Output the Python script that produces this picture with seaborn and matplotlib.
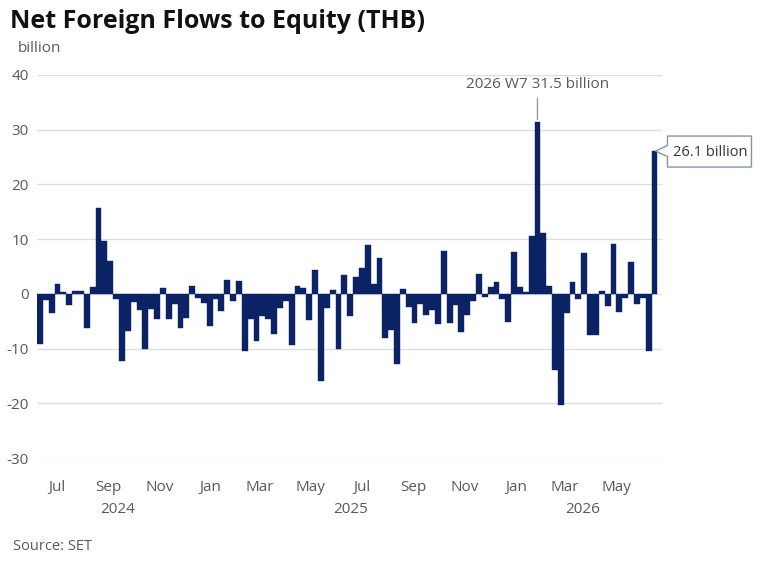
import matplotlib

matplotlib.use("Agg")
import matplotlib.dates as mdates
import matplotlib.pyplot as plt
import pandas as pd
import seaborn as sns
from matplotlib.patches import Polygon

# weekly net foreign flows, THB billion
FLOWS = [
    -9.1, -1.2, -3.5, 1.8, 0.3, -2.0, 0.6, 0.6, -6.2, 1.2,
    15.7, 9.6, 6.0, -1.0, -12.2, -6.7, -1.5, -3.0, -10.0, -2.7,
    -4.6, 1.0, -4.6, -1.8, -6.2, -4.5, 1.4, -0.7, -1.6, -5.9,
    -1.0, -3.2, 2.6, -1.3, 2.3, -10.5, -4.6, -8.7, -4.0, -4.6,
    -7.3, -2.6, -1.3, -9.3, 1.5, 1.0, -4.7, 4.3, -16.0, -2.6,
    0.7, -10.0, 3.5, -4.0, 3.0, 4.7, 9.0, 1.8, 6.6, -8.0,
    -6.6, -12.8, 0.8, -2.4, -5.4, -1.8, -3.8, -2.9, -5.5, 7.9,
    -5.4, -2.0, -6.9, -3.8, -1.3, 3.7, -0.6, 1.3, 2.1, -1.0,
    -5.2, 7.6, 1.3, 0.3, 10.6, 31.5, 11.1, 1.4, -13.9, -20.4,
    -3.5, 2.1, -1.0, 7.4, -7.6, -7.5, 0.6, -2.3, 9.2, -3.3,
    -0.8, 5.8, -1.8, -0.8, -10.5, 26.1,
]
FIRST_WEEK = "2024-06-26"
PEAK_INDEX = 85  # 2026 W7

MONTH_LABELS = ["Jul", "Sep", "Nov", "Jan", "Mar", "May",
                "Jul", "Sep", "Nov", "Jan", "Mar", "May"]
MONTH_DATES = ["2024-07-16", "2024-09-16", "2024-11-16", "2025-01-16",
               "2025-03-16", "2025-05-16", "2025-07-16", "2025-09-16",
               "2025-11-16", "2026-01-16", "2026-03-16", "2026-05-16"]
YEAR_LABELS = ["2024", "2025", "2026"]
YEAR_STARTS = ["2025-01-01", "2026-01-01"]
Y_TICKS = [-30, -20, -10, 0, 10, 20, 30, 40]

NAVY = "#0b2265"
GREY = "#595959"
GRID = "#dedede"


def main() -> None:
    sns.set_style("white")
    plt.rcParams["font.family"] = ["Open Sans", "DejaVu Sans"]

    weeks = pd.date_range(FIRST_WEEK, periods=len(FLOWS), freq="7D")
    df = pd.DataFrame({"week": mdates.date2num(weeks), "flow": FLOWS})

    fig = plt.figure(figsize=(7.78, 5.67), dpi=100)
    ax = fig.add_axes([37 / 778, 1 - 458 / 567, 625 / 778, 383 / 567])

    sns.barplot(
        data=df, x="week", y="flow", native_scale=True, width=1,
        color=NAVY, saturation=1, errorbar=None, orient="x",
        edgecolor=NAVY, linewidth=0.3, ax=ax, zorder=3,
    )

    x0 = df["week"].iloc[0] - 3.6
    x1 = df["week"].iloc[-1] + 9.0
    ax.set_xlim(x0, x1)
    ax.set_ylim(-30, 40)

    ax.set_yticks(Y_TICKS)
    ax.set_yticklabels([str(v) for v in Y_TICKS])
    ax.grid(axis="y", color=GRID, linewidth=1, zorder=0)
    ax.grid(axis="x", visible=False)
    for spine in ax.spines.values():
        spine.set_visible(False)
    ax.tick_params(axis="both", length=0, labelsize=11, labelcolor=GREY)
    ax.tick_params(axis="y", pad=6)
    ax.tick_params(axis="x", pad=16)
    ax.set_xticks(mdates.date2num(pd.to_datetime(MONTH_DATES)))
    ax.set_xticklabels(MONTH_LABELS)
    ax.set_xlabel("")
    ax.set_ylabel("")

    # year labels centred over each calendar year's span
    bounds = [x0] + list(mdates.date2num(pd.to_datetime(YEAR_STARTS))) + [x1]
    for i, year in enumerate(YEAR_LABELS):
        ax.text((bounds[i] + bounds[i + 1]) / 2, -0.135, year,
                transform=ax.get_xaxis_transform(), ha="center", va="center",
                fontsize=11, color=GREY)

    # peak annotation
    peak_x = df["week"].iloc[PEAK_INDEX]
    ax.annotate(
        f"2026 W7 {FLOWS[PEAK_INDEX]} billion",
        xy=(peak_x, FLOWS[PEAK_INDEX]), xytext=(0, 26.5), textcoords="offset points",
        ha="center", va="center", fontsize=11, color=GREY,
        arrowprops=dict(arrowstyle="-", color="#9a9a9a", lw=1, shrinkA=2, shrinkB=1.5),
    )

    # callout box for the latest week
    last_x = df["week"].iloc[-1]
    tip = ax.transData.transform((last_x, FLOWS[-1]))
    offsets = [(1, 0), (13, 5.5), (13, 15), (97, 15), (97, -16), (13, -16), (13, -5.5)]
    pts = [(tip[0] + dx, tip[1] + dy) for dx, dy in offsets]
    pts = fig.transFigure.inverted().transform(pts)
    fig.add_artist(Polygon(pts, closed=True, transform=fig.transFigure,
                           facecolor="white", edgecolor="#8393ad", linewidth=1))
    label_pos = fig.transFigure.inverted().transform((tip[0] + 56, tip[1] - 1))
    fig.text(label_pos[0], label_pos[1], f"{FLOWS[-1]} billion", ha="center", va="center",
             fontsize=10.5, color="#333333")

    fig.text(10 / 778, 1 - 21 / 567, "Net Foreign Flows to Equity (THB)",
             ha="left", va="center", fontsize=18, weight="bold", color="#111111")
    fig.text(18 / 778, 1 - 48 / 567, "billion", ha="left", va="center",
             fontsize=11, color=GREY)
    fig.text(13 / 778, 1 - 547 / 567, "Source: SET", ha="left", va="center",
             fontsize=10.5, color=GREY)

    fig.savefig("out.png", dpi=100)
    plt.close(fig)


if __name__ == "__main__":
    main()
